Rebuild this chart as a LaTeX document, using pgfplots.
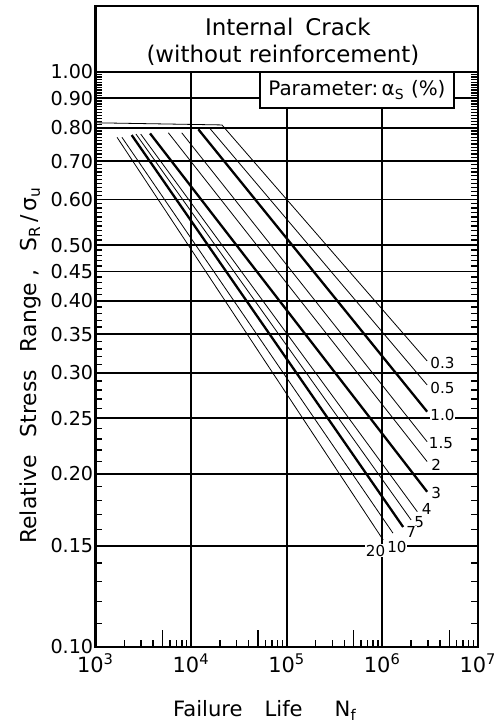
\documentclass[border=0pt]{standalone}
\usepackage{fontspec}
\setmainfont{DejaVu Sans}
\usepackage{pgfplots}
\pgfplotsset{compat=1.18}
\begin{document}
\begin{tikzpicture}
\begin{axis}[
  scale only axis, width=191.25bp, height=287.5bp,
  xmode=log, ymode=log,
  xmin=1e3, xmax=1e7, ymin=0.1, ymax=1,
  clip=false,
  axis line style={line width=1.2bp},
  tick align=inside, xtick pos=left, ytick pos=both,
  major tick length=8.5bp, minor tick length=3.5bp,
  tick style={black,line width=0.7bp},
  xtick={1e3,5e3,1e4,5e4,1e5,5e5,1e6,5e6,1e7},
  xticklabels={10\textsuperscript{3},,10\textsuperscript{4},,10\textsuperscript{5},,10\textsuperscript{6},,10\textsuperscript{7}},
  minor xtick={2e3,3e3,4e3,6e3,7e3,8e3,9e3,2e4,3e4,4e4,6e4,7e4,8e4,9e4,2e5,3e5,4e5,6e5,7e5,8e5,9e5,2e6,3e6,4e6,6e6,7e6,8e6,9e6},
  extra x ticks={1e4,1e5,1e6},
  extra x tick labels={},
  extra x tick style={grid=major},
  ytick={0.1,0.15,0.2,0.25,0.3,0.35,0.4,0.45,0.5,0.6,0.7,0.8,0.9,1},
  yticklabels={0.10,0.15,0.20,0.25,0.30,0.35,0.40,0.45,0.50,0.60,0.70,0.80,0.90,1.00},
  minor ytick={0.11,0.12,0.13,0.14,0.16,0.17,0.18,0.19,0.21,0.22,0.23,0.24,0.26,0.27,0.28,0.29,
    0.31,0.32,0.33,0.34,0.36,0.37,0.38,0.39,0.41,0.42,0.43,0.44,0.46,0.47,0.48,0.49,
    0.51,0.52,0.53,0.54,0.55,0.56,0.57,0.58,0.59,0.61,0.62,0.63,0.64,0.65,0.66,0.67,0.68,0.69,
    0.71,0.72,0.73,0.74,0.75,0.76,0.77,0.78,0.79,0.81,0.82,0.83,0.84,0.85,0.86,0.87,0.88,0.89,
    0.91,0.92,0.93,0.94,0.95,0.96,0.97,0.98,0.99},
  ymajorgrids,
  major grid style={black,line width=0.9bp},
  yticklabel style={font=\fontsize{9.6}{10}\selectfont,inner sep=1bp},
  xticklabel style={font=\fontsize{10.5}{11}\selectfont},
  xlabel={Failure\hspace{11bp}Life\hspace{16bp}N\textsubscript{f}},
  xlabel style={at={(axis description cs:0.443,-0.11)},anchor=center,font=\fontsize{10.6}{12}\selectfont},
  ylabel={Relative\hspace{9bp}Stress\hspace{9bp}Range\hspace{3bp},\hspace{9bp}S\textsubscript{R}\,/\,σ\textsubscript{u}},
  ylabel style={at={(axis description cs:-0.17,0.49)},anchor=center,font=\fontsize{11}{12}\selectfont},
  cycle list={{black,solid,line width=1.15bp}},
  no markers,
]
% alpha_s = 0.3
\addplot coordinates {(1000,0.816) (2.10e4,0.809) (2.94e6,0.3144)};
% 0.5
\addplot coordinates {(1.58e4,0.797) (2.94e6,0.2856)};
% 1.0
\addplot coordinates {(1.19e4,0.795) (2.94e6,0.2566)};
% 1.5
\addplot coordinates {(7.98e3,0.784) (2.94e6,0.2275)};
% 2
\addplot coordinates {(5.78e3,0.784) (2.94e6,0.2101)};
% 3
\addplot coordinates {(3.72e3,0.782) (2.94e6,0.1862)};
% 4
\addplot coordinates {(2.97e3,0.780) (2.32e6,0.1719)};
% 5
\addplot coordinates {(2.65e3,0.780) (2.0e6,0.1663)};
% 7
\addplot coordinates {(2.39e3,0.777) (1.65e6,0.1617)};
% 10
\addplot coordinates {(1.89e3,0.770) (1.29e6,0.1578)};
% 20
\addplot coordinates {(1.68e3,0.770) (1.02e6,0.1535)};

\tikzset{clab/.style={fill=white,inner sep=0.4bp,font=\fontsize{7.6}{8}\selectfont}}
\node[clab] at (axis cs:4.25e6,0.3114) {0.3};
\node[clab] at (axis cs:4.25e6,0.2818) {0.5};
\node[clab] at (axis cs:4.25e6,0.2532) {1.0};
\node[clab] at (axis cs:4.1e6,0.2261) {1.5};
\node[clab] at (axis cs:3.65e6,0.2073) {2};
\node[clab] at (axis cs:3.65e6,0.1855) {3};
\node[clab] at (axis cs:2.9e6,0.1736) {4};
\node[clab] at (axis cs:2.42e6,0.1650) {5};
\node[clab] at (axis cs:2.0e6,0.1585) {7};
\node[clab] at (axis cs:1.42e6,0.1493) {10};
\node[clab] at (axis cs:8.5e5,0.1470) {20};

\node[draw,fill=white,line width=0.9bp,minimum width=97bp,minimum height=17.8bp,inner sep=1bp,
  font=\fontsize{10}{11}\selectfont] at (axis description cs:0.6835,0.9684)
  {Parameter:\,α\textsubscript{S} (\%)};

\draw[line width=1.2bp] (axis description cs:0,1) rectangle (axis description cs:1,1.1148);
\node[font=\fontsize{11.5}{13}\selectfont] at (axis description cs:0.503,1.0783) {Internal\hspace{6bp}Crack};
\node[font=\fontsize{11.5}{13}\selectfont] at (axis description cs:0.490,1.0296) {(without reinforcement)};
\end{axis}
\pgfresetboundingbox
\path (current axis.south west) ++(-47.75bp,-37.5bp) rectangle ++(494bp*0.5,722bp*0.5);
\end{tikzpicture}
\end{document}
